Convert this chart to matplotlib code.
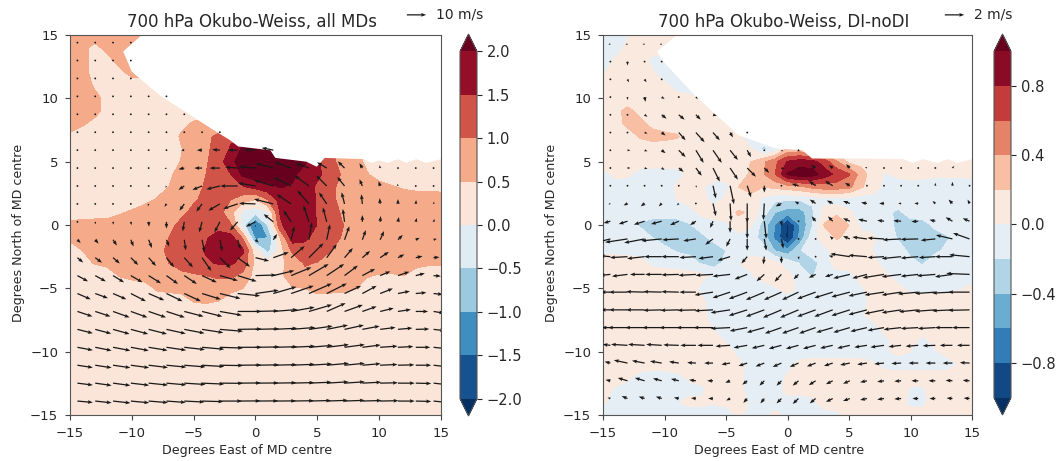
import numpy as np
import matplotlib
matplotlib.use("Agg")
import matplotlib.pyplot as plt

n = np.nan

# Okubo-Weiss grid, 1 degree, rows from y=15 down to y=-15, columns x=-15..15
x_ow = np.arange(-15, 16)
y_ow = np.arange(15, -16, -1)

ow_all = [
    [.7]*7 + [.3]*24,
    [.7, .6, .4, .6, .7, .7, .7] + [.3]*24,
    [.7, .6, .4, .4, .6, .7, .7] + [.3]*24,
    [.7, .6, .4, .4, .4, .6, .6] + [.3]*24,
    [.8, .7, .45, .3, .3, .3, .3] + [.3]*24,
    [.8, .7, .6, .4, .3, .3, .3] + [.3]*24,
    [.8, .7, .6, .4] + [.3]*27,
    [.7, .55, .4] + [.3]*6 + [.4, .55, .6, .6] + [.3]*18,
    [.4] + [.3]*8 + [.55, .7, .9, 1.1, 1.4, 1.5] + [2.3]*4 + [.3]*12,
    [.3]*9 + [.48, .7, .9, 1.2, 1.55, 2.1, 2.3, 2.3, 2.3, 2.3, 2.3, 1.6, 1.1, .9, .6, .45] + [.3]*6,
    [.3]*9 + [.52, .7, .95, 1.25, 1.85, 2.3, 2.3, 2.3, 2.3, 2.3, 2.05, 1.6, 1.1, .9, .6, .45] + [.3]*6,
    [.3]*8 + [.45, .6, .8, 1.0, 1.3, 1.5, 2.1, 2.3, 2.3, 2.2, 2.1, 1.8, 1.6, 1.3, .95, .7, .52, .4, .35] + [.3]*4,
    [.3]*7 + [.38, .5, .65, .85, 1.05, 1.15, 1.25, 1.45, 1.65, 1.85, 2.02, 1.95, 1.75, 1.42, 1.1, .9, .75, .65, .58, .52, .47, .45, .43, .42],
    [.3]*6 + [.4, .52, .65, .8, .95, 1.1, 1.1, 1.0, .7, .48, 1.0, 1.7, 2.0, 1.8, 1.45, 1.1, .9, .8, .72, .68, .62, .62, .6, .62, .62],
    [.3]*4 + [.45, .55, .65, .72, .8, .9, 1.1, 1.2, 1.2, .65, -.15, -.3, -.02, 1.55, 1.85, 1.8, 1.45, 1.2, .95, .8, .75, .72, .68, .62, .55, .6, .62],
    [.6, .65, .68, .7, .72, .74, .76, .8, .9, 1.1, 1.25, 1.35, 1.3, 1.05, -.35, -1.65, -.45, 1.4, 1.9, 1.85, 1.48, 1.2, 1.02, .85, .8, .78, .74, .72, .7, .68, .65],
    [.55, .65, .68, .7, .72, .74, .78, .85, 1.0, 1.15, 1.25, 1.45, 1.7, 1.7, .9, -1.2, -1.0, .5, 1.8, 1.6, 1.3, 1.15, .98, .9, .85, .82, .78, .75, .72, .7, .68],
    [.4, .5, .6, .68, .72, .78, .82, .92, 1.05, 1.2, 1.3, 1.55, 1.7, 1.7, 1.55, .2, -.7, .3, 1.1, 1.3, 1.25, 1.02, .85, .8, .78, .75, .72, .7, .68, .66, .65],
    [.35, .4, .52, .6, .68, .75, .8, .88, 1.0, 1.15, 1.25, 1.42, 1.55, 1.58, 1.3, .35, .15, .4, .7, 1.05, .98, .85, .8, .75, .7, .65, .6, .58, .55, .52, .52],
    [.3]*4 + [.52, .6, .68, .75, .82, .9, .95, 1.0, 1.1, 1.1, .85, .3, .3, .42, .7, .85, .85, .8, .75, .68, .52, .48, .48, .5, .42, .42, .42],
    [.3]*7 + [.55, .6, .65, .68, .7, .7, .62, .5, .3, .3, .35, .48, .5, .65, .62, .6, .52, .4, .35] + [.3]*5,
    [.3]*10 + [.52, .55, .5] + [.3]*18,
    [.3]*31, [.3]*31, [.3]*31, [.3]*31, [.3]*31, [.3]*31, [.3]*31, [.3]*31, [.3]*31,
]

# DI-noDI grid, same layout, in hundredths
ow_diff = [
    [-10, -10, -2, 10, 10, 10, 10] + [-10]*24,
    [-10, -10, 5, 10, 10, 10, -10] + [-10]*24,
    [-10, 3, 10, 10, -5, -10, -10] + [-10]*24,
    [-2, 10, 10, 10, 3, -10, -10] + [-10]*24,
    [10, 10, 10, 10, 10, 5, -10] + [-10]*24,
    [10]*7 + [5, -3] + [-10]*22,
    [10, 15, 25, 15, 10, 10, 10, 10, 10, 5] + [-10]*21,
    [10, 12, 25, 25, 15] + [10]*5 + [5] + [-10]*20,
    [10]*3 + [22, 27, 25, 22, 12] + [10]*3 + [3] + [-10]*19,
    [10]*12 + [2, -24, -15, 25, 25, 10] + [10]*13,
    [10]*12 + [20, 35, 55, 82, 90, 88, 70, 42, 15, 12, 10, 10, 10, 18, 12, 10, 10, 10, 10],
    [-8, 6, 3, -8, -10, -10, -8, 5, 10, 10, 8, 12, 22, 38, 60, 102, 112, 110, 90, 75, 62, 30, 8, -2, 4, 8, 6, 3, 3, 3, 6],
    [-10]*6 + [3, 10, 3, -10, -6, 20, 28, 20, 25, 30, 35, 45, 50, 50, 45, 22, 10, -8] + [-10]*7,
    [-10]*6 + [0, 8, 8, -8, 4, 10, 12, -5, -16, -18, -18, -15, -8] + [-10]*12,
    [-12]*7 + [-8, 5, 10, 12, 22, 18, -10, -40, -50, -50, -25, 8, 15, 3, -10, -10, -15, -24, -12] + [-10]*5,
    [-12, -12, -15, -22, -28, -28, -28, -22, -12, -8, -5, 15, 3, -28, -62, -105, -60, -22, 22, 35, 20, -5, -10, -12, -25, -28, -28, -15, -10, -10, -10],
    [-10]*4 + [-20, -28, -28, -30, -25, -15, -10, -10, -10, -28, -65, -105, -55, -8, 10, 22, 15, 8, 3, -10, -22, -28, -30, -30, -22, -12, -18],
    [-5, -5, -8, -8, -12, -15, -22, -25, -30, -28, -20, -8, -8, -12, -42, -55, -22, -5, -5, 7, 10, 10, -2, -8, -12, -25, -28, -25, -15, -10, -12],
    [12, 10, 10, 8, -5, -8, -10, -12, -22, -28, -15, -2, 8, 10, 5, -8, -22, -30, -10, 8, 10, 8, 5, -8, -10, -15, -22, -8, -8, -10, -10],
    [10]*7 + [8, 5, -5, -8, -8, -3, 8, 10, 5, -8, -22, -8, -8, -6, 8, 8, 3, -8, -10, -10, -10, -10, -10, -10],
    [10]*8 + [-5] + [-10]*5 + [-2, 8, -5] + [-10]*4 + [-3, 10, 10, 4, -5, -8, -8, -5, -2, 5],
    [10]*8 + [4] + [-10]*13 + [8] + [10]*8,
    [10]*8 + [7] + [-10]*12 + [-3, 10] + [10]*8,
    [10]*9 + [-4] + [-10]*12 + [-5] + [10]*8,
    [10]*10 + [-5] + [-10]*12 + [-3, 10, 5, -3, 8, 10, 10, 10],
    [10]*11 + [-6] + [-10]*11 + [-3, 5, 0, -8, -3, 8, 10, 10],
    [10]*11 + [5, -8, -10, -10, -5, 5, 10, 10, 10, 10, 8, 2, -8] + [-10]*5 + [2, 10],
    [10, 10, 5, -8, -10, -10, -5, 3, 10, 10, 10, 5, -8, -10, -8, 2] + [10]*15,
    [8, -3, -10, -10, -10, -10, -10, -5, -5, 8, 10, 5, -8, -3, -8, 5, 5, 8] + [10]*7 + [-3, -3] + [10]*4,
    [3, -8, -10, -10, -10, -10, -2, 5, 5, 2, 5, 8, -2, -10, -10, -5, -8, -5] + [10]*7 + [-5, -5] + [10]*4,
    [-10]*11 + [5, -8, -8, 5, -5, -8, -8, -8, -5, 5, 8, 8, 5] + [8]*7,
]

# terrain mask outline (no data above it)
mask_x_all = [-9.2, -10.7, -10, -7.7, -5.3, -3.4, -2.06, -1.4, 1.2, 1.6, 4.1, 4.95, 5.6, 8.7, 9.4, 10, 10.7, 11.5, 12.2, 13, 13.8, 15, 15]
mask_y_all = [15, 13.7, 12.1, 10.2, 8.7, 7.5, 6.7, 6.2, 5.9, 5.3, 5, 4.6, 5.3, 5.2, 4.9, 5.1, 4.9, 5.2, 4.9, 5.2, 4.9, 5.2, 15]
mask_x_diff = [-9, -10.6, -10.1, -7.5, -4, -1, 1.2, 2, 5.75, 9.4, 10.2, 11, 12.2, 13, 13.8, 15, 15]
mask_y_diff = [15, 13.7, 12.9, 10.2, 7.1, 6.05, 5.9, 5.25, 5.25, 5.2, 4.9, 5.2, 4.9, 5.2, 4.9, 5.2, 15]

# 700 hPa wind, all MDs (m/s)
x_all = np.linspace(-14.4, 14.4, 21)
y_all = np.linspace(14.4, -13.9, 21)
u_all = [
    [0, 0, 0, 0] + [n]*17,
    [0, 0, 0, 0] + [n]*17,
    [0, 0, 0, 0] + [n]*17,
    [0, 0, 0, 0, 0, 0] + [n]*15,
    [0, 0, 0, 0, 0, -.1, -.3] + [n]*14,
    [0, 0, 0, 0, 0, -.1, -.4, -.7, -.7] + [n]*12,
    [-.1, -.1, -.1, -.2, -.3, -.5, -1.7, -2.7, -4, -5, -6, -6] + [n]*9,
    [-.1, -.1, -.1, -.2, -.3, -1, -3, -4, -5.3, -6.5, -8.5, -9, -8.5, -7, -5, -3.5, -1.5, -.3, 0, 0, 0],
    [0, 0, 0, 0, -.1, -.5, -3, -5, -7, -9, -9, -10, -9, -7.5, -5.5, -3.8, -1.5, -.8, -.3, 0, 0],
    [0, 0, 0, -.1, -.4, -1, -2.5, -3, -6, -7.5, -8.5, -10, -7.5, -6, -4, -1.5, -.5, -.3, 0, .2, .3],
    [.1, .1, .2, .3, .2, 0, -.8, -1.5, -2.8, -4, -5, -5, -4, -2.8, -2, -.9, 0, .3, .5, .5, .5],
    [1.7, 1.7, 2, 1.4, 1.7, 1.4, .8, 1.3, 1.2, 1.5, 1.7, 2, 1.7, 1.5, 1.7, 2.5, 1.8, 2, 2.5, 2, 1.7],
    [3, 3.5, 3.5, 3.8, 3.8, 4, 4.5, 4.8, 5.5, 6.4, 7, 8, 7, 7.5, 5.2, 4.3, 4, 4.5, 3.3, 3.5, 3],
    [5.5, 5.5, 5.7, 6, 6.4, 6, 6.5, 7.6, 9.3, 9.8, 10.7, 10.9, 10.5, 10.2, 9, 6.9, 6.6, 5.3, 5.9, 4.7, 3.8],
    [6.9, 6.6, 6.9, 7.8, 8.1, 8.3, 8.6, 9.7, 10.7, 11.6, 12, 12, 11.7, 11.9, 10.4, 8.6, 7.4, 6.6, 6.2, 5.5, 4.8],
    [7.8, 7.9, 8.6, 8.6, 9, 9.5, 10, 10.5, 11.4, 12.4, 12, 12.6, 12.2, 12, 9.8, 9.5, 7.4, 7, 6.7, 6.4, 5.5],
    [8, 8.3, 8.6, 9, 9.5, 10, 10.5, 11, 12, 12.5, 12.3, 12.5, 12.5, 12.3, 11, 10, 9, 8, 7.5, 7, 6],
    [8, 8.5, 9, 9.3, 9.8, 10.2, 10.7, 11.5, 12, 12.5, 12.5, 12.5, 12.5, 12.3, 11.5, 10.5, 9.5, 9, 8, 7.5, 6.5],
    [8, 8.5, 9, 9.5, 10, 10.3, 11, 11.5, 12, 12.3, 12.3, 12.3, 12.3, 12, 11.5, 10.5, 9.5, 9, 8.5, 8, 7],
    [8, 8.5, 9, 9.5, 10, 10.3, 11, 11.5, 12, 12, 12, 12, 12, 11.8, 11.3, 10.5, 9.8, 9.2, 8.7, 8, 7],
    [8, 8.5, 9, 9.5, 10, 10, 10.5, 11, 11.5, 11.8, 11.8, 11.8, 11.8, 11.5, 11, 10.5, 10, 9.5, 8.7, 8, 7],
]
v_all = [
    [-.3, -.3, -.3, -.3] + [n]*17,
    [-.4, -.4, -.4, -.4] + [n]*17,
    [-.4, -.4, -.4, -.4] + [n]*17,
    [-.3, -.4, -.4, -.3, -.2, -.1] + [n]*15,
    [-.4, -.4, -.4, -.4, -.2, -.1, -.1] + [n]*14,
    [-.4, -.4, -.4, -.4, -.3, -.2, 0, 0, 0] + [n]*12,
    [-.3, -.4, -.3, -.3, -.3, -.2, 0, 0, .3, 0, .3, 1.2] + [n]*9,
    [-.3, -.4, -.4, -.4, -.5, -.5, -.6, 0, 0, .5, .8, 2.4, 3, 2.5, 3, 3.5, 2.5, 1.5, 1, .8, .5],
    [-.5, -.6, -.6, -.6, -.7, -1, -2, -2, -1.7, 0, 1.5, 3, 4.5, 5.5, 5.5, 4.7, 3.5, 2.5, 1.2, .8, .6],
    [-.8, -.8, -.9, -1, -1.2, -1.5, -3.5, -4, -3.5, -2.5, .3, 2.5, 5, 7, 6, 6, 5, 3, 2.5, 2, 1.2],
    [-1, -1.3, -1.5, -1.7, -2.5, -3.5, -5, -5.5, -5.5, -4.5, -2.5, 4, 6, 8.5, 7.5, 6.7, 3.5, 3, 2.5, 2, 1.5],
    [-1.7, -2, -3, -3.5, -4.3, -3.5, -5.5, -6.5, -6, -5, -1.5, 3, 7, 9, 8, 7, 5, 4.5, 2.5, 1, .5],
    [-2.5, -2.6, -3, -3.8, -4.3, -5, -5, -6.9, -5.5, -4.7, -1.7, 2.8, 6, 7.5, 7, 5, 3.5, 3, 1.7, .8, .3],
    [-3, -3, -3.5, -3.5, -4, -4.3, -4.3, -3.5, -2.6, -3, .3, 2.6, 4.3, 6, 6, 5.2, 3.5, 2.2, 2, 1.2, -.3],
    [-3, -2.4, -3, -4, -3.5, -4, -4, -3, -2.6, -1.2, 1.7, 3.5, 4, 5.2, 5.2, 4, 4, 2.6, 1.2, .5, -.5],
    [-2.6, -2.6, -3.1, -3.1, -3.1, -3.1, -2.6, -2.6, -2, 0, .3, 1, 2.2, 3.5, 4.3, 3.4, 2.6, 1.7, 1, 0, -.9],
    [-2, -2.2, -2.4, -2.4, -2.4, -2.2, -2, -1.7, -1, .2, .3, .6, 1, 1.7, 2.2, 2.2, 1.7, 1, .7, .2, -.7],
    [-1.5, -1.7, -1.7, -1.7, -1.6, -1.5, -1.2, -1, -.4, 0, .2, .3, .6, 1, 1.4, 1.4, 1.2, .6, .4, 0, -.7],
    [-1.2, -1.3, -1.3, -1.3, -1.2, -1, -.9, -.7, -.2, .1, .2, .3, .5, .7, 1, 1, .8, .4, .2, 0, -.8],
    [-1, -1.2, -1.2, -1.1, -1, -.9, -.7, -.5, -.1, .1, .1, .2, .3, .5, .7, .7, .5, .2, 0, -.2, -.8],
    [-.7, -.9, -1, -.9, -.8, -.7, -.5, -.3, 0, .1, .1, .1, .2, .3, .4, .4, .3, .2, 0, -.2, -.7],
]

# 700 hPa wind, DI-noDI (m/s)
x_diff = np.linspace(-14.4, 14.8, 22)
y_diff = np.linspace(14.3, -13.7, 21)
u_diff = [
    [-.2, -.2, -.2, -.2] + [n]*18,
    [0, 0, 0, 0] + [n]*18,
    [0, .15, .2, .05] + [n]*18,
    [0, 0, .1, .3, .05, .2] + [n]*16,
    [0, 0, .3, .5, .6, .5, .4] + [n]*15,
    [0, 0, .3, .4, .7, .9, .7, .3, 0] + [n]*13,
    [.2, .3, .3, .4, .7, .8, .9, .8, .4, 0, .2, .1] + [n]*10,
    [.2, .3, .3, .3, .5, .6, .7, .8, .9, .5, .3, -.1, -.5, -.4, -.4, -.2, -.1, 0, 0, 0, .2, n],
    [0, 0, 0, 0, .1, .1, .3, .4, .4, 0, 0, -.7, -.7, -.8, -.5, -.1, 0, 0, 0, 0, 0, 0],
    [-.2, -.4, -.4, -.3, -.2, 0, .3, .1, 0, -.1, -.6, -.4, -.6, -.6, -.7, -.6, -.5, -.3, -.4, -.3, -.4, -.2],
    [-.7, -.9, -1.1, -1.1, -.9, -.6, -.3, 0, 0, .2, 0, 0, -.4, -.5, -.7, -.9, -.7, -.8, -.7, -.6, -.7, -.7],
    [-1.2, -2.3, -2.1, -2.1, -1.7, -1.3, -.8, -.4, 0, .2, .2, -.05, -.1, -.3, -.7, -1.5, -1.7, -1.9, -1.8, -1.5, -1.7, -1.7],
    [-1.1, -1.8, -1.8, -1.8, -1.8, -1.7, -1.5, -1.3, -.6, -.1, 0, .05, -.05, -.4, -2, -1.9, -1.7, -2, -1.8, -1.7, -1.8, -2.1],
    [-1.1, -1.6, -1.5, -1.7, -1.8, -1.8, -1.8, -1.8, -1.3, -.8, -.7, -.5, -.7, -.8, -1.7, -1.5, -2.2, -2, -1.8, -1.9, -1.8, -2.4],
    [-1, -1.9, -1.9, -1.9, -1.8, -1.7, -1.9, -1.8, -1.9, -1.9, -1.8, -1.7, -1.9, -1.9, -1.9, -1.9, -2, -2, -2.1, -2.1, -2.1, -2.2],
    [-1, -1.9, -1.9, -1.9, -1.9, -1.9, -1.9, -2, -1.9, -1.9, -1.9, -1.9, -1.9, -1.9, -1.9, -1.9, -2, -2, -2, -2.1, -2.1, -2.2],
    [-.9, -2, -2, -2, -2, -2, -2, -2, -1.8, -1.8, -1.7, -1.7, -1.7, -1.7, -1.7, -1.7, -1.7, -1.8, -1.8, -1.8, -1.8, -1.8],
    [-.8, -1.7, -1.7, -1.6, -1.6, -1.6, -1.6, -1.5, -1.4, -1.3, -1.3, -1.3, -1.3, -1.3, -1.3, -1.3, -1.4, -1.3, -1.3, -1.3, -1.3, -1.3],
    [-.6, -1.4, -1.3, -1.2, -1, -.9, -.9, -.9, -.9, -.9, -.9, -.9, -.9, -.9, -1, -1, -1, -1, -1, -1, -1, -1],
    [-.5, -1, -1, -.9, -.8, -.7, -.6, -.5, -.5, -.5, -.5, -.6, -.7, -.7, -.7, -.7, -.7, -.7, -.7, -.7, -.7, -.7],
    [-.3, -.6, -.6, -.6, -.5, -.5, -.5, -.4, -.4, -.4, -.5, -.6, -.6, -.7, -.7, -.7, -.7, -.7, -.6, -.6, -.6, -.6],
]
v_diff = [
    [-.1, -.1, -.1, -.1] + [n]*18,
    [-.05, -.4, -.05, -.05] + [n]*18,
    [-.1, -.3, -.3, -.05] + [n]*18,
    [-.05, -.3, -.5, -.2, -.05, -.2] + [n]*16,
    [-.05, -.05, -.2, -.4, -.5, -.5, -.1] + [n]*15,
    [-.05, -.05, -.1, -.3, -.8, -1, -.8, -.5, -.2] + [n]*13,
    [0, 0, -.1, -.3, -.7, -1.3, -1.3, -1, -.7, -.2, -.1, -.1] + [n]*10,
    [0, 0, -.1, -.2, -.4, -.8, -1.4, -1.2, -.9, -.5, -.1, 0, .3, .3, .4, .1, 0, .05, .1, .2, .2, n],
    [-.05, -.05, -.05, -.05, -.1, -.2, -1.3, -1.9, -1.2, -.7, -.05, .2, .5, .5, .3, 0, -.05, -.05, .2, .3, .4, .1],
    [-.1, -.2, -.3, -.3, -.2, -.05, -1.3, -1.8, -2, -1.7, -.3, .2, .4, .3, .25, .1, 0, 0, 0, .25, .4, .4],
    [-.2, -.3, -.35, -.3, -.4, -.4, -.7, -1.2, -1.8, -1.8, -.5, -.05, .5, .5, .3, .2, .1, .05, -.05, .15, .4, .3],
    [-.3, -.35, -.4, -.2, -.1, -.2, -.6, -.8, -1.2, -1.2, -1, -.1, .1, .3, .3, .2, .1, -.1, -.05, -.15, .4, .6],
    [.1, -.1, -.2, 0, 0, -.1, -.2, -.4, -.7, -.8, -.7, -.3, .05, .1, .3, .15, -.1, -.2, -.15, -.1, 0, .2],
    [-.1, -.2, 0, 0, -.05, -.1, -.1, -.2, -.5, -.7, -.75, -.5, -.35, -.25, -.4, -.4, -.35, -.25, -.2, -.15, -.25, .1],
    [0, 0, .05, .05, .05, 0, -.3, -.6, -.7, -.8, -.8, -.8, -.7, -.6, -.5, -.4, -.3, -.3, -.2, -.15, -.1, 0],
    [0, 0, 0, -.05, -.05, -.05, -.1, -.3, -.6, -.7, -.8, -.8, -.7, -.7, -.6, -.5, -.4, -.3, -.2, -.15, -.1, -.05],
    [0, 0, 0, 0, 0, 0, 0, -.1, -.35, -.5, -.6, -.6, -.6, -.5, -.5, -.4, -.3, -.2, -.1, -.1, 0, 0],
    [.1, .1, .1, .1, .05, 0, 0, -.1, -.25, -.3, -.35, -.35, -.35, -.3, -.3, -.2, -.2, -.15, -.1, -.05, 0, 0],
    [.15, .3, .25, .2, .15, .05, 0, -.15, -.3, -.35, -.4, -.4, -.35, -.3, -.2, -.15, -.1, -.05, 0, 0, 0, .05],
    [.1, .3, .3, .25, .2, .1, 0, -.2, -.4, -.5, -.5, -.5, -.45, -.35, -.3, -.15, -.1, -.05, 0, 0, .05, .05],
    [.1, .25, .2, .2, .1, .05, 0, -.2, -.45, -.5, -.5, -.55, -.5, -.35, -.25, -.15, -.1, -.05, 0, 0, .05, .05],
]

ow_all = np.array(ow_all)
ow_diff = np.array(ow_diff) * 0.01

levels_all = np.arange(-2, 2.01, 0.5)
levels_diff = np.arange(-1, 1.01, 0.2)

W, H = 1060, 461
fig = plt.figure(figsize=(W / 100, H / 100), dpi=100)
text_col = "#262626"


def axes_px(x0, x1, y0, y1):
    # rectangle given in image pixels, y measured from the top
    return fig.add_axes([x0 / W, 1 - y1 / H, (x1 - x0) / W, (y1 - y0) / H])


def panel(box, cbox, field, levels, mx, my, xq, yq, u, v, scale, key, key_label, key_x, title, cticks):
    ax = axes_px(*box)
    cf = ax.contourf(x_ow, y_ow, field, levels=levels, cmap="RdBu_r", extend="both", zorder=1)
    ax.fill(mx, my, color="white", lw=0, zorder=2)
    q = ax.quiver(xq, yq, np.array(u), np.array(v), scale=scale, width=0.0034, headwidth=3,
                  headlength=4, headaxislength=3.5, minlength=1.6, color="#1a1a1a", zorder=3)
    ax.quiverkey(q, key_x, 1.053, key, key_label, labelpos="E", coordinates="axes",
                 fontproperties={"size": 10}, labelsep=0.1, labelcolor=text_col)
    ax.set_xlim(-15, 15)
    ax.set_ylim(-15, 15)
    ax.set_xticks(np.arange(-15, 16, 5))
    ax.set_yticks(np.arange(-15, 16, 5))
    ax.tick_params(labelsize=9.5, colors=text_col, length=3.5, color="#444444", pad=5)
    ax.set_xlabel("Degrees East of MD centre", fontsize=9.1, color=text_col, labelpad=3, x=0.478)
    ax.set_ylabel("Degrees North of MD centre", fontsize=9.1, color=text_col, labelpad=4, y=0.48)
    ax.set_title(title, fontsize=12, color=text_col, pad=6, x=0.49)
    for s in ax.spines.values():
        s.set_color("#555555")
    cax = axes_px(*cbox)
    cb = fig.colorbar(cf, cax=cax, ticks=cticks)
    cb.ax.tick_params(labelsize=10.5, colors=text_col, length=3.5)
    cb.outline.set_edgecolor("#555555")
    return ax


panel((70, 441, 35, 415), (460, 477, 34, 416), ow_all, levels_all, mask_x_all, mask_y_all,
      x_all, y_all, u_all, v_all, 192, 10, "10 m/s", 0.96,
      "700 hPa Okubo-Weiss, all MDs", np.arange(-2, 2.01, 0.5))
panel((603, 972, 35, 415), (994, 1011, 34, 415), ow_diff, levels_diff, mask_x_diff, mask_y_diff,
      x_diff, y_diff, u_diff, v_diff, 38, 2, "2 m/s", 0.979,
      "700 hPa Okubo-Weiss, DI-noDI", [-0.8, -0.4, 0, 0.4, 0.8])

fig.savefig("out.png", dpi=100)
